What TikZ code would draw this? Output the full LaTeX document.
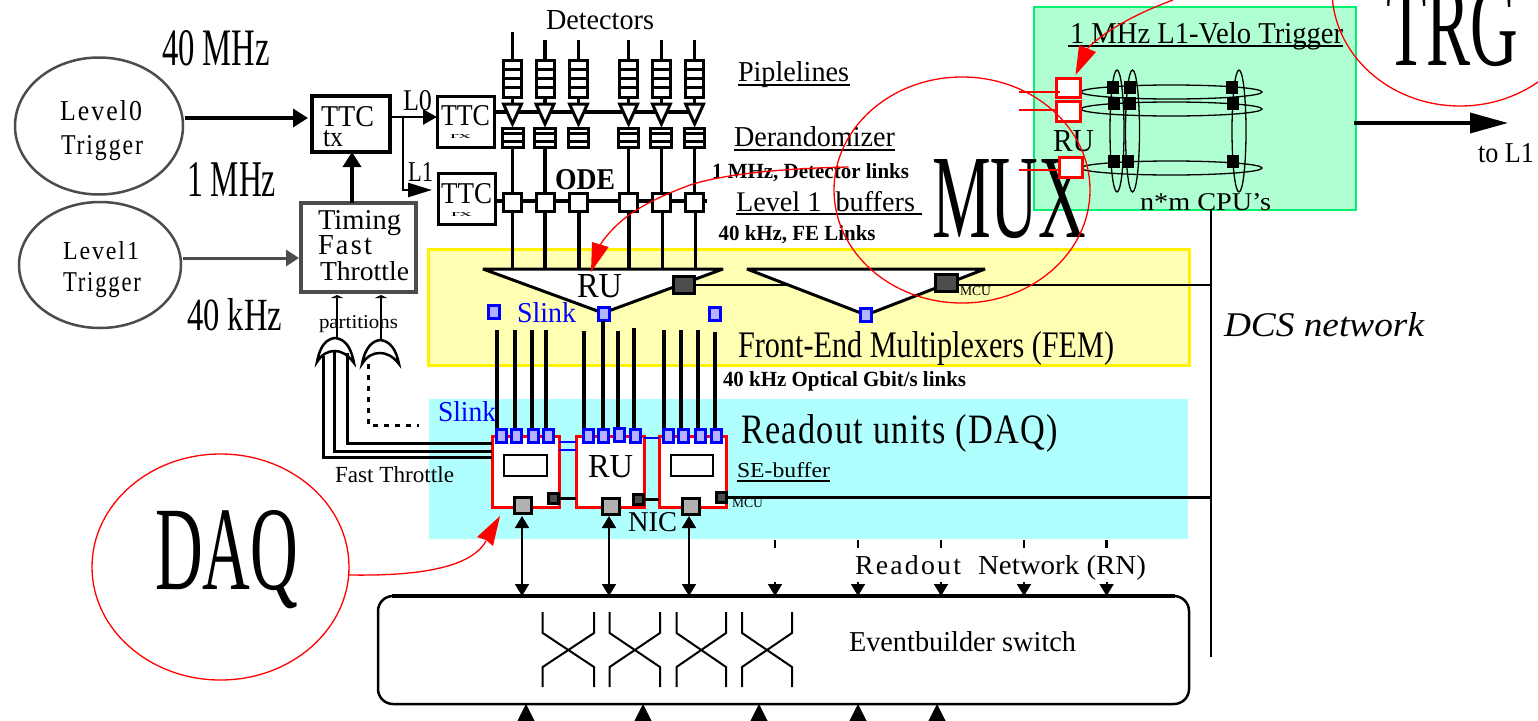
\documentclass[tikz,border=0pt]{standalone}
\usepackage{fontspec}
\usepackage{graphicx}
\setmainfont{Liberation Serif}
\usetikzlibrary{arrows.meta,shapes.geometric,calc}
\definecolor{femfill}{HTML}{FFFFB3}
\definecolor{daqfill}{HTML}{B0FFFF}
\definecolor{trgfill}{HTML}{B0FFD2}
\definecolor{trgedge}{HTML}{00F070}
\definecolor{slinkfill}{HTML}{B3B3FF}
\definecolor{dgrey}{gray}{0.3}
\definecolor{mgrey}{gray}{0.69}
\newcommand\lab[6]{\node[anchor=base west,inner sep=0pt,outer sep=0pt] (#1) at (#2,#3) {\resizebox{#4pt}{#5pt}{#6}};}
\newcommand\lspc{\addfontfeature{LetterSpace=8}}
\tikzset{
  bx/.style={draw,rectangle,inner sep=0pt,outer sep=0pt},
  blk/.style={bx,line width=3.5pt,fill=white},
  cell/.style={bx,line width=3pt,fill=white},
  slk/.style={bx,draw=blue,fill=slinkfill,line width=3pt,minimum width=11pt,minimum height=13pt},
  redbx/.style={bx,draw=red,fill=white,line width=3pt},
  mcu/.style={bx,fill=dgrey,line width=3pt},
  nic/.style={bx,fill=mgrey,line width=3pt,minimum width=17pt,minimum height=16pt},
  cpu/.style={bx,fill=black,minimum width=11pt,minimum height=12pt},
  ring/.style={draw,ellipse,inner sep=0pt,outer sep=0pt},
  anno/.style={ring,draw=red,line width=1.3pt},
  wire/.style={line width=3.2pt},
  bigarr/.style={line width=3.5pt,-{Triangle[length=15pt,width=18pt]}},
  rnarr/.style={line width=1.8pt,{Triangle[length=12pt,width=14pt]}-{Triangle[length=12pt,width=14pt]}},
  headarr/.style={line width=1.8pt,-{Triangle[length=12pt,width=14pt]}},
  upnub/.style={line width=1pt,-{Triangle[length=17pt,width=17pt]}},
  slkline/.style={line width=3.2pt},
  bluelink/.style={draw=blue,line width=2.5pt},
  ul/.style={line width=2pt}
}
\begin{document}
\begin{tikzpicture}[x=1pt,y=-1pt]
\clip (0,0) rectangle (1538,720);
\fill[white] (0,0) rectangle (1538,720);
% backgrounds
\node[bx,draw=yellow,fill=femfill,line width=3pt,minimum width=761pt,minimum height=116pt,anchor=north west] (fem) at (428.5,249.5) {};
\node[rectangle,fill=daqfill,inner sep=0pt,outer sep=0pt,minimum width=759pt,minimum height=140pt,anchor=north west] (daq) at (429,399) {};
\node[bx,draw=trgedge,fill=trgfill,line width=2pt,minimum width=322pt,minimum height=203pt,anchor=north west] (trg) at (1034,7) {};
% trigger ellipses
\node[ring,draw=dgrey,line width=2.5pt,minimum width=168pt,minimum height=137pt] (ell0) at (99,126) {};
\node[ring,draw=dgrey,line width=2.5pt,minimum width=162pt,minimum height=126pt] (ell1) at (100,265) {};
\lab{t0a}{60}{120}{82}{20}{{\lspc Level0}}
\lab{t0b}{61}{154}{82}{19}{{\lspc Trigger}}
\lab{t1a}{63}{259}{76}{18}{{\lspc Level1}}
\lab{t1b}{63}{291}{78}{19}{{\lspc Trigger}}
\lab{f40}{162}{65}{108}{35}{40 MHz}
\lab{f1}{187}{196}{89}{34}{1 MHz}
\lab{f40k}{187}{330}{95}{32}{40 kHz}
% TTC and throttle
\node[blk,minimum width=78pt,minimum height=56pt] (ttctx) at (351,124) {};
\node[bx,draw=dgrey,fill=white,line width=3.5pt,minimum width=115pt,minimum height=89pt] (fft) at (358.5,247.5) {};
\node[cell,minimum width=57pt,minimum height=51pt] (rx0) at (465.5,121.5) {};
\node[cell,minimum width=57pt,minimum height=51pt] (rx1) at (466.5,198.5) {};
\lab{ttx}{321}{126}{53}{20}{TTC}
\lab{ttxb}{323}{146}{20}{16}{tx}
\lab{fa}{318}{229}{83}{19}{Timing}
\lab{fb}{318}{254}{54}{19}{{\lspc Fast}}
\lab{fc}{320}{280}{89}{19}{Throttle}
\lab{r0}{441}{125}{49}{20}{TTC}
\lab{r0b}{450}{138}{21}{4}{rx}
\lab{r1}{441}{203}{51}{20}{TTC}
\lab{r1b}{451}{216}{21}{4}{rx}
\lab{l0}{403}{110}{29}{20}{L0}
\lab{l1}{408}{181}{25}{19}{L1}
\draw[bigarr] ([xshift=2pt]ell0.east |- 0,118) -- ([xshift=-4pt]ttctx.west |- 0,118);
\draw[line width=3pt,draw=dgrey,fill=dgrey,-{Triangle[length=13pt,width=16pt]}] ([xshift=2pt]ell1.east |- 0,258) -- (299,258);
\draw[bigarr] (fft.north -| 352,0) -- (ttctx.south -| 352,0);
\coordinate (brk) at (403,117);
\draw[line width=2.5pt,-{Triangle[length=14pt,width=15pt]}] (ttctx.east |- brk) -- (rx0.west |- brk);
\draw[line width=2.5pt,-{Triangle[length=24pt,width=14pt]}] (brk) -- (403,190) -- (432,190);
% detector columns
\lab{det}{546}{29}{108}{19}{Detectors}
\coordinate (trail0) at (rx0.east |- 0,112);
\coordinate (trail0e) at (692,112);
\draw[wire] (trail0) -- (trail0e);
\coordinate (trail1) at (rx1.east |- 0,201);
\coordinate (trail1e) at (707,201);
\draw[wire] (trail1) -- (trail1e);
\foreach \i/\cx/\ty/\dw in {1/512.5/32/21,2/545/40/21,3/578.5/40/20,4/628.6/40/20,5/661.4/40/21,6/694.6/40/20}{
  \coordinate (top\i) at (\cx,\ty);
  \node[cell,minimum width=18pt,minimum height=37pt] (pipe\i) at (\cx,78.5) {};
  \draw[wire] (top\i) -- (pipe\i.north);
  \foreach \yy in {69,78,87}{\draw[line width=3pt] (\cx-9,\yy) -- (\cx+9,\yy);}
  \coordinate (tri\i) at (\cx,104);
  \draw[wire] (pipe\i.south) -- (tri\i);
  \draw[line width=3pt,fill=white,line join=miter] (\cx-9,104) -- (\cx+9,104) -- (\cx,124) -- cycle;
  \node[cell,minimum width=\dw pt,minimum height=19pt] (der\i) at (\cx,137.5) {};
  \draw[line width=3pt] (\cx-10,133) -- (\cx+10,133) (\cx-10,141.5) -- (\cx+10,141.5);
  \node[cell,minimum width=18pt,minimum height=18pt] (buf\i) at (\cx,202) {};
}
\draw[wire] (der1.south) -- (buf1.north);
\draw[wire] (der2.south) -- (buf2.north);
\draw[wire] (der4.south) -- (buf4.north);
\draw[wire] (der5.south) -- (buf5.north);
\draw[wire] (der6.south) -- (buf6.north);
\lab{ode}{555}{189}{60}{20}{\bfseries ODE}
\lab{pip}{738}{81}{111}{20}{Piplelines}
\draw[ul] (738,85) -- (850,85);
\lab{dera}{734}{146}{161}{20}{Derandomizer}
\draw[ul] (734,149.5) -- (895,149.5);
\lab{mlink}{712}{178}{197}{15}{\bfseries 1 MHz, Detector links}
\lab{lev}{736}{211}{179}{20}{Level 1\ \ buffers}
\draw[ul] (736,214) -- (922,214);
\lab{fel}{718.6}{240}{157}{15}{\bfseries 40 kHz, FE Links}
% FEM: multiplexer triangles
\coordinate (dcstop) at (1211,210);
\coordinate (dcsbot) at (1211,657);
\coordinate (mcuay) at (694,284.5);
\draw[line width=3pt,fill=white,line join=miter,miter limit=3] (483,269) -- (723,269) -- (603,313) -- cycle;
\draw[line width=2pt] (mcuay) -- (dcstop |- mcuay);
\draw[line width=3pt,fill=white,line join=miter,miter limit=3] (747,269) -- (985,269) -- (866,315) -- cycle;
\foreach \i/\cx in {1/512.5,2/545,3/579,4/629,5/662.5,6/695.7}{
  \coordinate (mtop\i) at (\cx,269);
  \draw[wire] (\cx,211) -- (mtop\i);
}
\node[mcu,minimum width=21pt,minimum height=17pt] (mcua) at (683.5,284.5) {};
\node[mcu,minimum width=22pt,minimum height=17pt] (mcub) at (946,282.5) {};
\lab{ru1}{577}{297}{45}{23}{RU}
\lab{mcut}{960}{295}{31}{9}{MCU}
\node[slk] (sa) at (494,311.5) {};
\node[slk] (sb) at (603.5,314) {};
\node[slk] (sc) at (715,313.5) {};
\node[slk] (sd) at (866,314.5) {};
\lab{sl1}{517}{322}{59}{20}{\color{blue}Slink}
\lab{femt}{738}{357}{376}{26}{Front-End Multiplexers (FEM)}
\lab{optl}{723}{386}{243}{15}{\bfseries 40 kHz Optical Gbit/s links}
% DAQ: readout units
\node[redbx,minimum width=67pt,minimum height=71pt] (rua) at (525.5,471.5) {};
\node[redbx,minimum width=68pt,minimum height=71pt] (rub) at (610,471.5) {};
\node[redbx,minimum width=67pt,minimum height=71pt] (ruc) at (692.5,471.5) {};
\node[bx,fill=white,line width=2pt,minimum width=43pt,minimum height=21pt] (sea) at (525.5,465.5) {};
\node[bx,fill=white,line width=2pt,minimum width=42pt,minimum height=21pt] (seb) at (692,465.5) {};
\foreach \n/\cx/\ty in {1/497/330,2/515/330,3/532/330,4/546/330,5/584/331,6/603/321,7/618/331,8/634/328,9/664/330,10/681/330,11/698/330,12/715/332}{
  \coordinate (lk\n) at (\cx,\ty);
  \draw[slkline] (lk\n) -- (\cx,428);
}
\foreach \n/\cx/\by in {1/501/435.5,2/516/435.5,3/533/436,4/548.5/435.5,5/588.5/435.5,6/603.5/435.5,7/619/434.5,8/635.5/435.5,9/668/435.5,10/683/435.5,11/700/435.5,12/716/435.5}{
  \node[slk,minimum width=10pt,minimum height=13pt] (in\n) at (\cx,\by) {};
}
\draw[bluelink] (rua.east |- 0,442) -- (rub.west |- 0,442);
\draw[bluelink] (rua.east |- 0,450) -- (rub.west |- 0,450);
\draw[bluelink] (rub.east |- 0,438) -- (ruc.west |- 0,438);
\node[mcu,minimum width=10pt,minimum height=10pt] (ma) at (553,498.5) {};
\node[mcu,minimum width=10pt,minimum height=10pt] (mb) at (638.5,499.5) {};
\node[mcu,minimum width=10pt,minimum height=10pt] (mc) at (721,497.5) {};
\draw[line width=2.5pt] (ma.east) -- (rub.west |- ma.east);
\draw[line width=2.5pt] (mb.east) -- (ruc.west |- mb.east);
\draw[line width=2.5pt] (mc.east) -- (dcstop |- mc.east);
\node[nic] (na) at (522.5,505) {};
\node[nic] (nb) at (611,506) {};
\node[nic] (nc) at (691,506) {};
\lab{ru2}{588}{477}{45}{22}{RU}
\lab{mcut2}{732}{507}{31}{9}{MCU}
\lab{nict}{628}{531}{49}{19}{NIC}
\lab{sl2}{438}{421}{58}{20}{\color{blue}Slink}
\lab{rdt}{741}{443}{317}{29}{{\addfontfeature{LetterSpace=4}Readout units (DAQ)}}
\lab{sebt}{737}{477}{93}{15}{SE-buffer}
\draw[ul] (737,480.5) -- (830,480.5);
% fast throttle
\draw[line width=1.5pt,-{Triangle[length=3pt,width=12pt]}] (337,340) -- (337,295);
\draw[line width=1.5pt,-{Triangle[length=3pt,width=12pt]}] (381,341) -- (381,295);
\lab{part}{319}{328}{79}{13}{partitions}
\draw[line width=2.5pt,fill=white] (317,362) .. controls (320,346) and (326,339) .. (335,338) .. controls (345,339) and (351,347) .. (354,363) .. controls (347,354) and (341,351) .. (335,351) .. controls (328,351) and (322,354) .. (317,362) -- cycle;
\draw[line width=2.5pt,fill=white] (362,364) .. controls (365,348) and (372,341) .. (380,340) .. controls (390,341) and (396,349) .. (399,364) .. controls (393,356) and (386,353) .. (380,353) .. controls (373,353) and (367,356) .. (362,364) -- cycle;
\draw[line width=3pt] (rua.west |- 0,443) -- (347,443) -- (347,353);
\draw[line width=3pt] (rua.west |- 0,451) -- (334,451) -- (334,351);
\draw[line width=3pt] (rua.west |- 0,457) -- (323,457) -- (323,356);
\draw[line width=3pt,dash pattern=on 5pt off 6pt] (368,364) -- (368,425) -- (419,425);
\lab{ftt}{335}{482}{119}{16}{Fast Throttle}
% event builder
\node[bx,fill=white,line width=2.5pt,rounded corners=15pt,minimum width=811pt,minimum height=108pt] (ebs) at (783.5,650) {};
\draw[line width=3.5pt] (392,596) -- (1175,596);
\draw[rnarr] (522,516) -- (ebs.north -| 522,0);
\draw[rnarr] (609,516) -- (ebs.north -| 609,0);
\draw[rnarr] (689,516) -- (ebs.north -| 689,0);
\foreach \n/\cx in {1/775,2/858,3/941,4/1024,5/1106.6}{
  \coordinate (tick\n) at (\cx,540);
  \draw[line width=2.5pt] (tick\n) -- (\cx,548);
  \draw[headarr] (\cx,582) -- (ebs.north -| \cx,0);
}
\lab{rot}{855}{574}{106}{19}{{\lspc Readout}}
\lab{rnt}{978}{574}{168}{19}{Network (RN)}
\foreach \a/\b in {542.7/594,609.6/660,676.5/726,742/792}{
  \draw[line width=2pt] (\a,612) -- (\a,633) -- (\b,667) -- (\b,687);
  \draw[line width=2pt] (\b,612) -- (\b,633) -- (\a,667) -- (\a,687);
}
\lab{ebt}{849}{651}{227}{20}{Eventbuilder switch}
\foreach \cx in {526,643,759,858,937}{
  \draw[upnub] (\cx,726) -- (ebs.south -| \cx,0);
}
% DCS
\draw[line width=2.5pt] (dcstop) -- (dcsbot);
\lab{dcs}{1224}{336}{200}{24}{\itshape DCS network}
% L1 velo trigger
\lab{vel}{1070}{43}{273}{21}{1 MHz L1-Velo Trigger}
\draw[ul] (1068,46) -- (1343,46);
\lab{toL}{1478}{162}{56}{19}{to L1}
\draw[line width=3.5pt,-{Triangle[length=38pt,width=20pt]}] ([xshift=-2pt]trg.east |- 0,123) -- (1508,123);
\foreach \n/\cx/\cy/\w in {a/1171.5/92/181,b/1171.5/109/181,c/1171.5/168/181}{
  \node[ring,line width=1.3pt,minimum width=\w pt,minimum height=14pt] (h\n) at (\cx,\cy) {};
}
\foreach \n/\cx in {a/1117,b/1132.5,c/1239}{
  \node[ring,line width=1.3pt,minimum width=14pt,minimum height=122pt] (v\n) at (\cx,131) {};
}
\foreach \n/\cx/\cy in {a/1112.5/87,b/1130/87,c/1232/87,d/1114/103,e/1130/103,f/1233/103,g/1113.6/161,h/1128/161,i/1233/161}{
  \node[cpu] (c\n) at (\cx,\cy) {};
}
\lab{rut}{1053}{151}{41}{21}{RU}
\lab{nmt}{1140}{210}{131}{17}{n*m CPU’s}
% big labels and red boxes
\lab{muxt}{932}{237}{154}{78}{MUX}
\lab{trgt}{1386}{65}{132}{78}{TRG}
\lab{daqt}{155}{589}{143}{79}{DAQ}
\node[redbx,minimum width=24pt,minimum height=19pt] (vr1) at (1068,87.5) {};
\node[redbx,minimum width=24pt,minimum height=20pt] (vr2) at (1068,111) {};
\node[redbx,minimum width=23pt,minimum height=20pt] (vr3) at (1070.5,167) {};
\coordinate (red1) at (1019,92);
\coordinate (red2) at (1019,110);
\coordinate (red3) at (1019,170);
\draw[draw=red,line width=2pt] (red1) -- ([xshift=4pt]vr1.west |- red1);
\draw[draw=red,line width=2pt] (red2) -- (vr2.west |- red2);
\draw[draw=red,line width=2pt] (red3) -- (vr3.west |- red3);
% annotations
\node[anno,minimum width=256pt,minimum height=226pt] (muxc) at (962,190) {};
\node[anno,minimum width=256pt,minimum height=232pt] (trgc) at (1460,-10) {};
\node[anno,minimum width=257pt,minimum height=226pt] (daqc) at (220.5,567) {};
\coordinate (muxs) at (848.6,167);
\coordinate (muxe) at (600,245);
\coordinate (trgs) at (1173,0);
\coordinate (trge) at (1087,49);
\coordinate (daqe) at (486,541);
\draw[red,line width=1.3pt] (muxs) .. controls (800,168) and (730,172) .. (690,185) .. controls (650,200) and (620,215) .. (muxe);
\fill[red] (591,272) -- (592,242) -- (608.6,247) -- cycle;
\draw[red,line width=1.3pt] (trgs) .. controls (1140,12) and (1105,30) .. (trge);
\fill[red] (1075.5,75) -- (1079,45) -- (1096,52) -- cycle;
\draw[red,line width=1.3pt] (daqc.east |- 0,575) .. controls (410,576) and (470,570) .. (daqe);
\fill[red] (500,516) -- (477,537) -- (486,540) -- (493,546) -- cycle;
\end{tikzpicture}
\end{document}
